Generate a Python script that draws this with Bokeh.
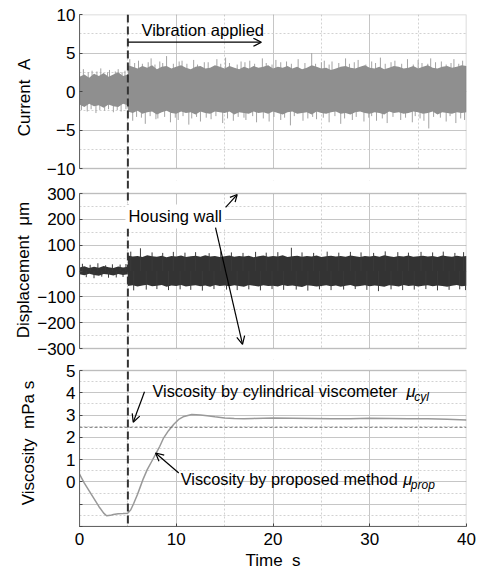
from bokeh.plotting import figure
from bokeh.layouts import column
from bokeh.models import (Range1d, SingleIntervalTicker, FixedTicker, Arrow,
                          OpenHead, Label, Span, BoxAnnotation)
from bokeh.embed import file_html
from bokeh.resources import INLINE

FONT = "Liberation Sans"

# ---------------- data ----------------
t_vib = 5.0          # vibration starts
mu_cyl = 2.45        # cylindrical viscometer value

# Current (A): noise envelope before vibration
cur_t_pre = [0.0, 0.5, 1.0, 1.5, 2.0, 2.5, 3.0, 3.5, 4.0, 4.5, 5.0]
cur_hi_pre = [1.9, 2.2, 1.8, 2.3, 2.0, 2.4, 1.9, 2.2, 2.5, 2.0, 2.2]
cur_lo_pre = [-1.7, -2.0, -1.6, -1.9, -1.8, -2.1, -1.7, -1.9, -2.0, -1.6, -1.8]
cur_spk_pre_x = [0.4, 0.9, 1.3, 1.8, 2.2, 2.9, 3.1, 3.7, 4.0, 4.4, 4.7]
cur_spk_pre_hi = [2.9, 2.5, 2.7, 2.6, 3.0, 2.5, 2.8, 2.6, 2.9, 2.5, 2.7]
cur_spk_pre_lox = [0.2, 0.8, 1.2, 1.7, 2.1, 2.6, 3.0, 3.5, 3.9, 4.3, 4.8]
cur_spk_pre_lo = [-2.4, -2.6, -2.3, -2.8, -2.4, -2.5, -2.3, -2.7, -2.4, -2.6, -2.3]

# noise envelope after vibration
t_post = [5.0, 5.5, 6.0, 6.5, 7.0, 7.5, 8.0, 8.5, 9.0, 9.5, 10.0, 10.5, 11.0,
          11.5, 12.0, 12.5, 13.0, 13.5, 14.0, 14.5, 15.0, 15.5, 16.0, 16.5,
          17.0, 17.5, 18.0, 18.5, 19.0, 19.5, 20.0, 20.5, 21.0, 21.5, 22.0,
          22.5, 23.0, 23.5, 24.0, 24.5, 25.0, 25.5, 26.0, 26.5, 27.0, 27.5,
          28.0, 28.5, 29.0, 29.5, 30.0, 30.5, 31.0, 31.5, 32.0, 32.5, 33.0,
          33.5, 34.0, 34.5, 35.0, 35.5, 36.0, 36.5, 37.0, 37.5, 38.0, 38.5,
          39.0, 39.5, 40.0]
cur_hi_post = [3.4, 3.2, 3.0, 3.3, 3.1, 3.4, 2.9, 3.2, 3.3, 3.0,
               3.2, 3.4, 3.1, 2.9, 3.2, 3.3, 3.0, 3.1, 3.4, 3.2,
               3.0, 3.3, 3.1, 2.9, 3.2, 3.0, 3.3, 3.1, 3.2, 3.4,
               3.0, 3.2, 3.1, 3.3, 3.0, 3.2, 2.9, 3.1, 3.4, 3.2,
               3.0, 3.1, 2.8, 3.0, 3.2, 3.3, 3.1, 3.0, 3.2, 3.4,
               3.1, 3.0, 3.2, 2.9, 3.1, 3.3, 3.2, 3.0, 3.1, 3.3,
               3.0, 3.2, 3.4, 3.1, 3.0, 3.2, 3.3, 3.1, 3.2, 3.4, 3.3]
cur_lo_post = [-2.6, -2.8, -2.5, -2.9, -2.7, -2.6, -3.0, -2.7, -2.5, -2.8,
               -2.9, -2.6, -2.8, -2.7, -3.0, -2.6, -2.8, -2.9, -2.6, -2.7,
               -2.8, -2.6, -3.0, -2.7, -2.8, -2.9, -2.6, -2.8, -2.7, -2.9,
               -2.6, -2.8, -3.0, -2.7, -2.6, -2.9, -2.8, -2.7, -3.0, -2.6,
               -2.8, -2.9, -2.7, -2.6, -2.9, -2.8, -3.0, -2.7, -2.6, -2.8,
               -2.9, -2.7, -2.8, -3.0, -2.6, -2.8, -2.7, -2.9, -2.8, -2.6,
               -2.7, -2.9, -2.8, -2.6, -3.0, -2.7, -2.8, -2.9, -2.7, -2.8, -2.7]
# tallest spikes above / below the band
cur_spk_x = [5.2, 6.1, 7.4, 8.3, 9.0, 10.6, 11.8, 12.9, 14.2, 15.1, 16.7, 17.6,
             18.9, 20.3, 21.4, 22.6, 24.0, 25.3, 26.1, 27.5, 28.8, 30.2, 31.1,
             32.6, 33.9, 35.0, 36.3, 37.4, 38.7, 39.6]
cur_spk_hi = [4.2, 4.0, 4.3, 3.9, 4.6, 4.0, 4.1, 3.8, 4.2, 4.4, 3.9, 4.0, 4.3,
              4.1, 3.9, 4.2, 5.0, 4.0, 3.9, 4.3, 4.1, 3.9, 4.4, 4.0, 4.2, 4.1,
              4.3, 3.9, 4.2, 4.0]
cur_spk_lox = [5.5, 6.8, 7.9, 9.4, 10.2, 11.3, 12.5, 13.6, 14.8, 15.9, 17.2,
               18.3, 19.6, 20.8, 21.8, 23.1, 24.5, 25.8, 27.0, 28.2, 29.4,
               30.7, 31.8, 33.2, 34.4, 35.6, 36.1, 37.9, 38.9, 39.8]
cur_spk_lo = [-3.8, -4.2, -3.6, -4.0, -3.7, -4.3, -3.9, -3.6, -4.1, -3.8, -3.7,
              -4.0, -3.9, -3.7, -4.4, -3.8, -3.6, -4.0, -4.2, -3.7, -3.9, -3.8,
              -4.1, -3.7, -4.0, -3.8, -4.8, -3.9, -4.1, -3.7]
# smaller fringe spikes
cur_fz_x = [5.7, 6.5, 7.1, 7.8, 8.6, 9.7, 10.3, 11.1, 12.2, 13.3, 14.6, 15.5,
            16.3, 17.1, 18.1, 19.3, 19.9, 20.8, 21.9, 23.3, 24.4, 25.0, 25.8,
            26.8, 27.9, 28.4, 29.6, 30.6, 31.6, 32.2, 33.3, 34.5, 35.4, 36.0,
            36.8, 37.9, 38.4, 39.2]
cur_fz_hi = [3.7, 3.6, 3.8, 3.5, 3.7, 3.6, 3.9, 3.6, 3.5, 3.8, 3.6, 3.7, 3.5,
             3.8, 3.6, 3.7, 3.5, 3.8, 3.6, 3.7, 3.6, 3.8, 3.5, 3.7, 3.6, 3.8,
             3.5, 3.7, 3.6, 3.8, 3.6, 3.5, 3.7, 3.6, 3.8, 3.5, 3.7, 3.6]
cur_fz_lox = [5.9, 6.4, 7.3, 8.1, 8.8, 9.9, 10.7, 11.6, 12.1, 13.1, 14.1, 15.3,
              16.4, 17.0, 17.9, 19.0, 20.1, 21.2, 22.2, 23.6, 24.1, 25.2, 26.4,
              27.4, 28.6, 29.9, 30.2, 31.3, 32.4, 33.7, 34.7, 35.2, 36.6, 37.3,
              38.3, 39.4]
cur_fz_lo = [-3.3, -3.4, -3.2, -3.5, -3.3, -3.4, -3.2, -3.5, -3.3, -3.4, -3.2,
             -3.5, -3.3, -3.4, -3.2, -3.5, -3.3, -3.4, -3.2, -3.5, -3.3, -3.4,
             -3.2, -3.5, -3.3, -3.4, -3.2, -3.5, -3.3, -3.4, -3.2, -3.5, -3.3,
             -3.4, -3.2, -3.5]

# Displacement (um)
disp_hi_pre = [14, 18, 12, 16, 13, 19, 15, 12, 17, 14, 16]
disp_lo_pre = [-13, -16, -11, -15, -18, -12, -14, -17, -12, -15, -13]
disp_spk_pre_x = [0.3, 1.1, 1.9, 2.7, 3.4, 4.2, 4.8]
disp_spk_pre_hi = [28, 24, 30, 22, 26, 25, 27]
disp_spk_pre_lox = [0.7, 1.5, 2.3, 3.0, 3.8, 4.5]
disp_spk_pre_lo = [-24, -28, -22, -26, -25, -23]
disp_hi_post = [60, 56, 58, 54, 61, 57, 55, 59, 53, 58,
                56, 60, 54, 57, 59, 55, 61, 56, 58, 54,
                57, 60, 55, 58, 56, 59, 53, 57, 60, 55,
                58, 56, 61, 54, 57, 59, 55, 58, 56, 60,
                54, 57, 59, 56, 58, 55, 60, 57, 54, 58,
                56, 59, 55, 61, 57, 54, 58, 56, 60, 55,
                57, 59, 56, 58, 54, 60, 57, 55, 59, 56, 58]
disp_lo_post = [-58, -55, -60, -56, -53, -59, -57, -54, -61, -56,
                -58, -54, -60, -57, -55, -59, -56, -61, -54, -58,
                -56, -59, -55, -58, -61, -54, -57, -60, -55, -58,
                -57, -60, -54, -58, -56, -59, -62, -55, -57, -60,
                -58, -55, -59, -56, -61, -57, -54, -60, -58, -55,
                -59, -56, -58, -61, -55, -57, -60, -54, -58, -56,
                -60, -57, -55, -59, -56, -58, -61, -57, -54, -59, -57]
disp_spk_x = [5.3, 6.3, 7.5, 8.6, 9.7, 10.9, 12.0, 13.4, 14.6, 15.7, 16.9,
              18.2, 19.3, 20.5, 21.9, 23.0, 24.2, 25.6, 26.8, 28.0, 29.1, 30.4,
              31.6, 32.9, 34.0, 35.3, 36.5, 37.6, 38.8, 39.7]
disp_spk_hi = [75, 88, 72, 70, 74, 71, 73, 69, 76, 72, 70, 74, 71, 73, 90, 72,
               70, 75, 71, 74, 72, 70, 76, 73, 71, 74, 72, 75, 70, 73]
disp_spk_lox = [5.6, 6.9, 8.0, 9.2, 10.4, 11.5, 12.7, 13.9, 15.2, 16.3, 17.5,
                18.7, 19.9, 21.1, 22.4, 23.6, 24.8, 26.0, 27.3, 28.5, 29.7,
                30.9, 32.2, 33.4, 34.6, 35.8, 37.0, 38.2, 39.3, 39.9]
disp_spk_lo = [-75, -72, -70, -74, -71, -73, -76, -70, -72, -74, -71, -75, -70,
               -73, -72, -76, -71, -74, -72, -70, -73, -78, -71, -74, -72, -70,
               -75, -73, -71, -74]

# Viscosity (mPa s) by proposed method
visc_t = [0.0, 0.5, 1.0, 1.5, 2.0, 2.5, 2.8, 3.2, 3.5, 4.0, 4.5, 5.0, 5.3, 5.6,
          6.0, 6.3, 6.6, 7.0, 7.5, 7.9, 8.3, 8.7, 9.2, 9.75, 10.3, 10.8, 11.6,
          12.5, 13.2, 14.0, 15.0, 16.0, 17.0, 18.0, 20.0, 22.0, 24.0, 26.0,
          28.0, 30.0, 32.0, 34.0, 36.0, 38.0, 40.0]
visc_v = [0.35, -0.05, -0.4, -0.75, -1.1, -1.4, -1.52, -1.5, -1.46, -1.43,
          -1.42, -1.4, -1.25, -0.97, -0.55, -0.2, 0.15, 0.55, 0.95, 1.27, 1.6,
          1.98, 2.3, 2.59, 2.82, 2.94, 3.03, 3.0, 2.97, 2.92, 2.87, 2.85, 2.84,
          2.85, 2.87, 2.86, 2.85, 2.83, 2.84, 2.86, 2.85, 2.84, 2.84, 2.81, 2.78]

visc_ticks = [-2, -1, 0, 1, 2, 3, 4, 5]
visc_minor = [-1.5, -0.5, 0.5, 1.5, 2.5, 3.5, 4.5]

# ---------------- layout (pixels) ----------------
# each figure's frame reaches into half of the gap to the next panel, so
# that the vertical marker at t_vib runs continuously; the panel box itself
# is drawn with a BoxAnnotation and the gap is masked in white.
GAP_TOP = [0, 13, 11]        # px of frame above the panel box
GAP_BOT = [12, 11, 0]        # px of frame below the panel box
BOX_H = [154, 155, 156]      # px height of each panel box

xr = Range1d(0, 40)
GRID = "#c6c6c6"
MINOR = "#d2d2d2"
NB = "\u00a0\u00a0"


def make_fig(i, lims, height, btop, bbot, yticker, ylabel, title_standoff,
             with_xaxis):
    lo, hi = lims
    upp = (hi - lo) / BOX_H[i]          # data units per pixel
    yr = Range1d(lo - GAP_BOT[i] * upp, hi + GAP_TOP[i] * upp)
    p = figure(width=477, height=height, x_range=xr, y_range=yr,
               output_backend="svg", toolbar_location=None,
               x_axis_location="below" if with_xaxis else None,
               min_border_left=79, min_border_right=11,
               min_border_top=btop, min_border_bottom=bbot)
    p.outline_line_color = None
    xt = SingleIntervalTicker(interval=10, num_minor_ticks=2)
    p.xgrid.ticker = xt
    p.ygrid.ticker = yticker
    p.yaxis.ticker = yticker
    p.yaxis.bounds = (lo, hi)
    for g in (p.xgrid, p.ygrid):
        g.grid_line_color = GRID
        g.grid_line_width = 1
        g.minor_grid_line_color = MINOR
        g.minor_grid_line_dash = "2 2"
    axes = [p.yaxis[0]]
    if with_xaxis:
        p.xaxis.ticker = xt
        axes.append(p.xaxis[0])
    for ax in axes:
        ax.axis_line_color = "#666666"
        ax.major_tick_in = 3
        ax.major_tick_out = 0
        ax.minor_tick_in = 0
        ax.minor_tick_out = 0
        ax.major_tick_line_color = "#444444"
        ax.major_label_text_font = FONT
        ax.major_label_text_font_size = "17px"
        ax.major_label_text_color = "black"
        ax.axis_label_text_font = FONT
        ax.axis_label_text_font_size = "17px"
        ax.axis_label_text_font_style = "normal"
        ax.axis_label_text_color = "black"
    p.yaxis.major_label_standoff = 4
    p.yaxis.axis_label = ylabel
    p.yaxis.axis_label_standoff = title_standoff
    # white masks over the parts of the frame outside the panel box
    if GAP_BOT[i]:
        p.add_layout(BoxAnnotation(top=lo, fill_color="white", fill_alpha=1,
                                   line_alpha=0, level="underlay"))
    if GAP_TOP[i]:
        p.add_layout(BoxAnnotation(bottom=hi, fill_color="white", fill_alpha=1,
                                   line_alpha=0, level="underlay"))
    # panel box
    p.add_layout(BoxAnnotation(bottom=lo, top=hi, fill_alpha=0,
                               line_color="#666666", line_width=1.5))
    # vertical dashed marker
    p.add_layout(Span(location=t_vib, dimension="height", line_color="#333333",
                      line_width=2, line_dash="8 4"))
    return p


def spikes(p, pairs, color):
    for xs, ys in pairs:
        p.segment(x0=xs, y0=[0] * len(xs), x1=xs, y1=ys, line_color=color,
                  line_width=1)


# ---------------- panel 1: current ----------------
p1 = make_fig(0, (-10, 10), 180, 14, 0,
              SingleIntervalTicker(interval=5, num_minor_ticks=2),
              "Current" + NB + "A", 10, False)
CUR = "#8f8f8f"
spikes(p1, [(cur_spk_pre_x, cur_spk_pre_hi), (cur_spk_pre_lox, cur_spk_pre_lo),
            (cur_spk_x, cur_spk_hi), (cur_spk_lox, cur_spk_lo),
            (cur_fz_x, cur_fz_hi), (cur_fz_lox, cur_fz_lo)], "#a3a3a3")
p1.varea(x=cur_t_pre, y1=cur_lo_pre, y2=cur_hi_pre, fill_color=CUR)
p1.varea(x=t_post, y1=cur_lo_post, y2=cur_hi_post, fill_color=CUR)
p1.add_layout(Arrow(end=OpenHead(size=8, line_width=1.3, line_color="black"),
                    x_start=5.05, y_start=6.4, x_end=18.8, y_end=6.4,
                    line_color="black", line_width=1.3))
p1.add_layout(Label(x=6.4, y=8.05, text="Vibration applied", text_font=FONT,
                    text_font_size="16.5px", text_baseline="middle",
                    text_color="black"))

# ---------------- panel 2: displacement ----------------
p2 = make_fig(1, (-300, 300), 179, 0, 0,
              SingleIntervalTicker(interval=100, num_minor_ticks=2),
              "Displacement" + NB + "\u03bcm", 1, False)
DSP = "#333333"
p2.varea(x=cur_t_pre, y1=disp_lo_pre, y2=disp_hi_pre, fill_color=DSP)
p2.varea(x=t_post, y1=disp_lo_post, y2=disp_hi_post, fill_color=DSP)
spikes(p2, [(disp_spk_pre_x, disp_spk_pre_hi), (disp_spk_pre_lox, disp_spk_pre_lo),
            (disp_spk_x, disp_spk_hi), (disp_spk_lox, disp_spk_lo)], "#3a3a3a")
p2.add_layout(Label(x=4.75, y=211, text="Housing wall", text_font=FONT,
                    text_font_size="16.5px", text_baseline="middle",
                    text_color="black", background_fill_color="white",
                    padding=3))
p2.add_layout(Arrow(end=OpenHead(size=7, line_width=1.2, line_color="black"),
                    x_start=15.1, y_start=246, x_end=16.3, y_end=296,
                    line_color="black", line_width=1.2))
p2.add_layout(Arrow(end=OpenHead(size=8, line_width=1.2, line_color="black"),
                    x_start=14.06, y_start=168, x_end=16.85, y_end=-284,
                    line_color="black", line_width=1.2))

# ---------------- panel 3: viscosity ----------------
p3 = make_fig(2, (-2, 5), 216, 0, 49,
              FixedTicker(ticks=visc_ticks, minor_ticks=visc_minor),
              "Viscosity" + NB + "mPa s", 25, True)
p3.yaxis.major_label_overrides = {-2: "", -1: ""}
p3.xaxis.axis_label = "Time" + NB + "s"
p3.xaxis.major_label_standoff = 6
p3.xaxis.axis_label_standoff = 3
p3.add_layout(Span(location=mu_cyl, dimension="width", line_color="#777777",
                   line_width=1, line_dash="3 2"))
p3.line(visc_t, visc_v, line_color="#999999", line_width=1.5)
p3.add_layout(Arrow(end=OpenHead(size=8, line_width=1.2, line_color="black"),
                    x_start=6.72, y_start=4.05, x_end=5.55, y_end=2.68,
                    line_color="black", line_width=1.2))
p3.add_layout(Arrow(end=OpenHead(size=8, line_width=1.2, line_color="black"),
                    x_start=10.26, y_start=0.4, x_end=7.86, y_end=1.3,
                    line_color="black", line_width=1.2))
lab = dict(text_font=FONT, text_font_size="16.3px", text_baseline="middle",
           text_color="black")
p3.add_layout(Label(x=7.55, y=4.09, text="Viscosity by cylindrical viscometer",
                    **lab))
p3.add_layout(Label(x=33.8, y=4.09, text="\u03bc", text_font_style="italic",
                    **lab))
p3.add_layout(Label(x=34.6, y=3.8, text="cyl", text_font=FONT,
                    text_font_size="12px", text_font_style="italic",
                    text_baseline="middle", text_color="black"))
p3.add_layout(Label(x=10.47, y=0.14, text="Viscosity by proposed method",
                    **lab))
p3.add_layout(Label(x=33.45, y=0.14, text="\u03bc", text_font_style="italic",
                    **lab))
p3.add_layout(Label(x=34.25, y=-0.16, text="prop", text_font=FONT,
                    text_font_size="12px", text_font_style="italic",
                    text_baseline="middle", text_color="black"))

layout = column(p1, p2, p3, spacing=0)
open("out.html", "w").write(file_html(layout, INLINE))
